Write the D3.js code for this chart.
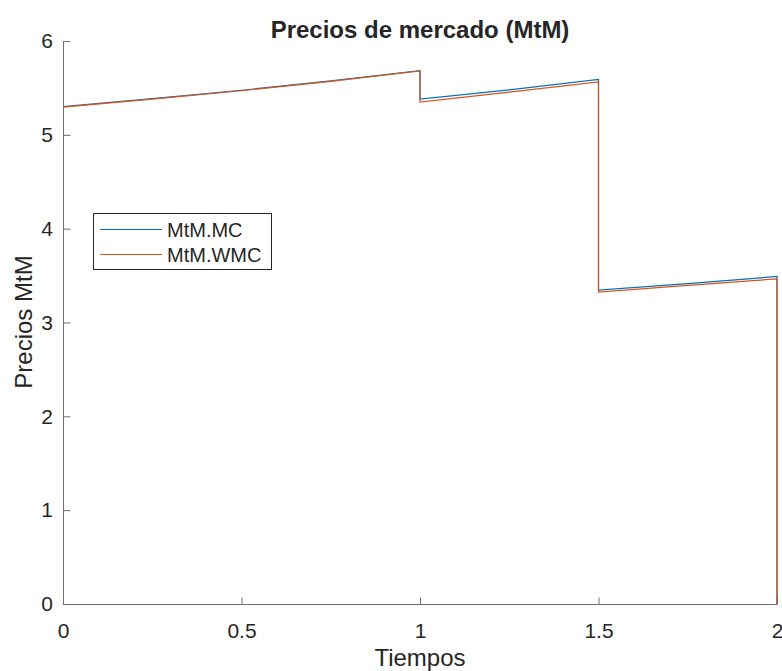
<!DOCTYPE html>
<html>
<head>
<meta charset="utf-8">
<script src="https://cdn.jsdelivr.net/npm/d3@7"></script>
<style>
  html, body { margin: 0; padding: 0; background: #fff; }
  svg { display: block; }
  text { font-family: "Liberation Sans", Arial, Helvetica, sans-serif; fill: #262626; }
</style>
</head>
<body>
<svg id="chart" width="782" height="671"></svg>
<script>
// Mark-to-market prices over time, two valuation methods
const tiempos = [0, 0.25, 0.5, 0.75, 1, 1, 1.25, 1.5, 1.5, 1.75, 2, 2];
const mtmMC   = [5.30, 5.385, 5.475, 5.575, 5.685, 5.38, 5.48, 5.59, 3.345, 3.415, 3.49, 0];
const mtmWMC  = [5.295, 5.38, 5.47, 5.57, 5.68, 5.35, 5.455, 5.565, 3.325, 3.395, 3.465, 0];
const seriesNames = ["MtM.MC", "MtM.WMC"];
const seriesColors = ["#0072BD", "#D95319"];
const xTicks = [0, 0.5, 1, 1.5, 2];
const yTicks = [0, 1, 2, 3, 4, 5, 6];

const svg = d3.select("#chart");
const margin = { left: 63, right: 5, top: 41, bottom: 67 };
const W = 782, H = 671;

const x = d3.scaleLinear().domain([0, 2]).range([margin.left, W - margin.right]);
const y = d3.scaleLinear().domain([0, 6]).range([H - margin.bottom, margin.top]);

const axisColor = "#6e6e6e";

// Y axis (ticks pointing inward)
const yAxis = d3.axisLeft(y).tickValues(yTicks).tickSize(-7).tickPadding(15).tickFormat(d3.format("d"));
const gy = svg.append("g").attr("transform", `translate(${margin.left},0)`).call(yAxis);
gy.select(".domain").attr("stroke", axisColor).attr("d", `M0.5,${y(6)}V${y(0) + 0.5}`);
gy.selectAll(".tick line").attr("stroke", axisColor).attr("transform", "translate(0.5,0)");
gy.selectAll(".tick text").attr("font-size", 21).attr("fill", "#262626").attr("x", -10);

// X axis (ticks pointing inward)
const xAxis = d3.axisBottom(x).tickValues(xTicks).tickSize(-7).tickPadding(15).tickFormat(d => d3.format("")(d));
const gx = svg.append("g").attr("transform", `translate(0,${y(0)})`).call(xAxis);
gx.select(".domain").attr("stroke", axisColor).attr("d", `M${x(0)},0.5H${x(2)}`);
gx.selectAll(".tick line").attr("stroke", axisColor).attr("transform", "translate(0,0.5)");
gx.selectAll(".tick text").attr("font-size", 21).attr("fill", "#262626").attr("y", 19);

// Series lines
const line = d3.line().x((d, i) => x(tiempos[i])).y(d => y(d));
[mtmMC, mtmWMC].forEach((vals, k) => {
  svg.append("path")
    .datum(vals)
    .attr("fill", "none")
    .attr("stroke", seriesColors[k])
    .attr("stroke-width", 1.2)
    .attr("d", line);
});

// Title and axis labels
svg.append("text").attr("x", 420).attr("y", 38).attr("text-anchor", "middle")
  .attr("font-size", 24).attr("font-weight", "bold").attr("fill", "#000").text("Precios de mercado (MtM)");
svg.append("text").attr("x", 420).attr("y", 666).attr("text-anchor", "middle")
  .attr("font-size", 24).text("Tiempos");
svg.append("text").attr("transform", "translate(32,322) rotate(-90)").attr("text-anchor", "middle")
  .attr("font-size", 24).text("Precios MtM");

// Legend
const lg = svg.append("g").attr("transform", "translate(93,213)");
lg.append("rect").attr("x", 0.5).attr("y", 0.5).attr("width", 178).attr("height", 56)
  .attr("fill", "#fff").attr("stroke", "#262626").attr("stroke-width", 1);
seriesNames.forEach((name, k) => {
  const cy = 16 + k * 25;
  lg.append("line").attr("x1", 7).attr("x2", 69).attr("y1", cy + 0.5).attr("y2", cy + 0.5)
    .attr("stroke", seriesColors[k]).attr("stroke-width", 1.2);
  lg.append("text").attr("x", 74).attr("y", cy + 8).attr("font-size", 20).text(name);
});
</script>
</body>
</html>
